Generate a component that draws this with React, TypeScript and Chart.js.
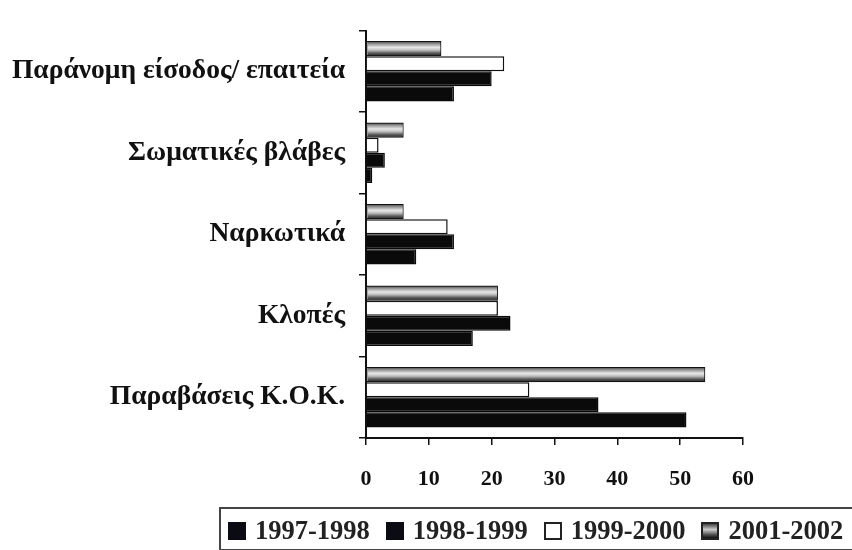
import React, { useEffect, useRef } from "react";
import { Chart, registerables } from "chart.js";

Chart.register(...registerables);

const categories = [
  "Παράνομη είσοδος/ επαιτεία",
  "Σωματικές βλάβες",
  "Ναρκωτικά",
  "Κλοπές",
  "Παραβάσεις Κ.Ο.Κ.",
];
const seriesNames = ["1997-1998", "1998-1999", "1999-2000", "2001-2002"];
const s1997 = [14, 1, 8, 17, 51];
const s1998 = [20, 3, 14, 23, 37];
const s1999 = [22, 2, 13, 21, 26];
const s2001 = [12, 6, 6, 21, 54];
const xTicks = [0, 10, 20, 30, 40, 50, 60];

const FONT = "'Liberation Serif', 'Times New Roman', serif";

const gradientPlugin = {
  id: "barGradient",
  afterDatasetsDraw(chart: any) {
    const ctx = chart.ctx;
    chart.data.datasets.forEach((ds: any, di: number) => {
      if (!ds.gradientFill) return;
      const meta = chart.getDatasetMeta(di);
      meta.data.forEach((el: any) => {
        const { x, y, base, height } = el.getProps(["x", "y", "base", "height"], true);
        const top = y - height / 2;
        const g = ctx.createLinearGradient(0, top, 0, top + height);
        g.addColorStop(0, "#3a3a3a");
        g.addColorStop(0.2, "#9a9a9a");
        g.addColorStop(0.42, "#e8e8e8");
        g.addColorStop(0.6, "#bdbdbd");
        g.addColorStop(0.8, "#5a5a5a");
        g.addColorStop(1, "#1e1e1e");
        ctx.save();
        ctx.fillStyle = g;
        const l = Math.min(x, base);
        const w = Math.abs(x - base);
        ctx.fillRect(l + 1, top + 1, w - 2, height - 2);
        ctx.restore();
      });
    });
  },
};

export default function App() {
  const ref = useRef<HTMLCanvasElement>(null);
  useEffect(() => {
    document.body.style.margin = "0";
    document.body.style.overflow = "hidden";
    const chart = new Chart(ref.current!, {
      type: "bar",
      data: {
        labels: categories,
        datasets: [
          { label: seriesNames[3], data: s2001, backgroundColor: "#999", borderColor: "#111", borderWidth: 1.5, gradientFill: true } as any,
          { label: seriesNames[2], data: s1999, backgroundColor: "#fff", borderColor: "#111", borderWidth: 1.5 },
          { label: seriesNames[1], data: s1998, backgroundColor: "#0a0a0a", borderColor: "#0a0a0a", borderWidth: 1.5 },
          { label: seriesNames[0], data: s1997, backgroundColor: "#0a0a0a", borderColor: "#0a0a0a", borderWidth: 1.5 },
        ],
      },
      options: {
        indexAxis: "y",
        animation: false,
        responsive: false,
        maintainAspectRatio: false,
        layout: { padding: { top: 17, right: 109, bottom: 0, left: 0 } },
        datasets: { bar: { categoryPercentage: 0.74, barPercentage: 1 } },
        plugins: { legend: { display: false }, tooltip: { enabled: false } },
        scales: {
          x: {
            min: 0,
            max: 60,
            afterBuildTicks: (s: any) => {
              s.ticks = xTicks.map((v) => ({ value: v }));
            },
            afterFit: (s: any) => {
              s.height = 112;
            },
            grid: { drawOnChartArea: false, drawTicks: true, tickLength: 7, color: "#111", lineWidth: 1.5 },
            border: { display: true, color: "#111", width: 2 },
            ticks: { color: "#111", padding: 21, font: { family: FONT, size: 22, weight: "bold" } },
          },
          y: {
            afterFit: (s: any) => {
              s.width = 366;
            },
            grid: { drawOnChartArea: false, drawTicks: true, tickLength: 7, color: "#111", lineWidth: 1.5, offset: true },
            border: { display: true, color: "#111", width: 2 },
            ticks: { color: "#111", padding: 14, font: { family: FONT, size: 27.5, weight: "bold" } },
          },
        },
      } as any,
      plugins: [gradientPlugin],
    });
    return () => chart.destroy();
  }, []);

  const swatch = (bg: string, border: string): React.CSSProperties => ({
    display: "inline-block",
    width: 18,
    height: 18,
    background: bg,
    border: `2px solid ${border}`,
    marginRight: 9,
    boxSizing: "border-box",
  });
  const swatches = [
    swatch("#0b0b14", "#0b0b14"),
    swatch("#0b0b14", "#0b0b14"),
    swatch("#fff", "#222"),
    swatch("linear-gradient(#444, #ccc 40%, #555 75%, #111)", "#222"),
  ];

  return (
    <div style={{ position: "relative", width: 852, height: 550, overflow: "hidden", background: "#fff" }}>
      <canvas ref={ref} width={852} height={550} style={{ display: "block" }} />
      <div
        style={{
          position: "absolute",
          left: 219,
          top: 507,
          width: 660,
          height: 44,
          border: "2px solid #444",
          boxSizing: "border-box",
          display: "flex",
          alignItems: "center",
          paddingLeft: 7,
          paddingTop: 3,
          fontFamily: FONT,
          fontWeight: "bold",
          fontSize: 26.5,
          color: "#222",
          whiteSpace: "nowrap",
        }}
      >
        {seriesNames.map((n, i) => (
          <span key={n} style={{ display: "inline-flex", alignItems: "center", marginRight: 16 }}>
            <span style={swatches[i]} />
            {n}
          </span>
        ))}
      </div>
    </div>
  );
}
